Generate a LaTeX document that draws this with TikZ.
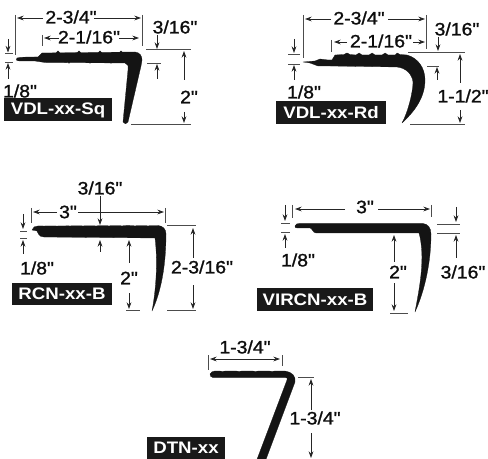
\documentclass[tikz,border=0pt]{standalone}
\usepackage{fontspec}
\usetikzlibrary{arrows.meta}
\newfontfamily\dimfont[FakeStretch=1.08,FakeBold=1.2]{Liberation Sans}
\newfontfamily\boxfont[FakeStretch=1.12]{Liberation Sans Bold}
\tikzset{
  dimtext/.style={font=\dimfont\fontsize{13.5pt}{15pt}\selectfont,inner sep=0pt,text=black!95},
  tagbox/.style={text=white,font=\boxfont\fontsize{12.5pt}{14pt}\selectfont,inner sep=0pt,anchor=center},
  arr/.style={line width=.55pt,-{Stealth[length=5pt,width=3.6pt]},black!85},
  arrb/.style={line width=.55pt,{Stealth[length=5pt,width=3.6pt]}-{Stealth[length=5pt,width=3.6pt]},black!85},
  ext/.style={line width=.55pt,black!70},
  profile/.style={fill=black!92,draw=black!92,line width=.2pt,line join=round},
}
\begin{document}
\begin{tikzpicture}[x=.75pt,y=-.75pt]
\useasboundingbox (0,0) rectangle (488,459);
% ===== VDL-xx-Sq =====
\draw[ext] (15.5,15)--(15.5,55) (142,15)--(142,46) (42.5,35)--(42.5,46);
\node[dimtext] (a1) at (71,17) {2-3/4"};
\draw[arr] (43,18)--(17,18); \draw[arr] (94,18)--(141,18);
\node[dimtext] (a2) at (89,37) {2-1/16"};
\draw[arr] (59,38)--(44,38); \draw[arr] (119,38)--(139,38);
\node[dimtext] (a3) at (175,27) {3/16"};
\draw[arr] (157,35)--(157,49);
\draw[ext] (146,49.5)--(191,49.5) (147,63)--(161,63) (131,124.5)--(191,124.5);
\draw[arr] (157,79)--(157,64);
\node[dimtext] (a4) at (189,97) {2"};
\draw[arr] (184,80)--(184,51); \draw[arr] (184,112)--(184,123);
\draw[arr] (8,39)--(8,52.5); \draw[arr] (8,79)--(8,63);
\draw[ext] (5,53.5)--(13,53.5) (5,62)--(13,62);
\node[dimtext] (a5) at (20,91) {1/8"};
\fill[black!90] (4,98) rectangle (112,121);
\node[tagbox] (a6) at (58,110) {VDL-xx-Sq};
\path[profile,draw] (17,58) .. controls (20,57) and (30,57) .. (38,57) -- (42,53) -- (135,52)
  .. controls (140,52.5) and (142,56) .. (142,60) -- (141,66) -- (128,122)
  .. controls (127,124.5) and (124,124.5) .. (123,122) -- (128,70) -- (128,65.5) -- (125,63) -- (45,62.5) -- (35,61) -- (20,61)
  .. controls (16,61) and (15,59) .. (17,58) -- cycle;
\foreach \x in {58,79,100,121} \fill[black!92] (\x,52.5) circle (1.9);
\foreach \x in {69,90,111} \fill[black!92] (\x,62.8) circle (.9);
% ===== VDL-xx-Rd =====
\draw[ext] (303,15)--(303,58) (426,15)--(426,49) (331.5,40)--(331.5,52);
\node[dimtext] (b1) at (359,18) {2-3/4"};
\draw[arr] (331,19)--(305,19); \draw[arr] (388,19)--(425,19);
\node[dimtext] (b2) at (381,41) {2-1/16"};
\draw[arr] (347,42)--(334,42); \draw[arr] (413,42)--(425,42);
\node[dimtext] (b3) at (457,29) {3/16"};
\draw[arr] (438,37)--(438,51);
\draw[ext] (408,52.5)--(465,52.5) (427,66)--(439,66) (410,124.5)--(465,124.5);
\draw[arr] (437,80)--(437,67);
\node[dimtext] (b4) at (463,96) {1-1/2"};
\draw[arr] (460,83)--(460,54); \draw[arr] (460,110)--(460,123);
\draw[arr] (294,39)--(294,53); \draw[arr] (294,80)--(294,65);
\draw[ext] (288,54.5)--(300,54.5) (288,64)--(300,64);
\node[dimtext] (b5) at (304,92) {1/8"};
\fill[black!90] (276,101) rectangle (386,124.5);
\node[tagbox] (b6) at (331,113) {VDL-xx-Rd};
\path[profile,draw] (303,62) -- (315,61) -- (320,59) -- (328,60) -- (332,60) -- (335,55)
  -- (344,54.5) -- (347,53) -- (350,54.5) -- (356,55) -- (359,53) -- (362,55) -- (369,55) -- (372,53) -- (375,55) -- (382,55) -- (385,53) -- (388,55) -- (395,55) -- (397,53) -- (400,54.5) -- (407,55)
  .. controls (418,58) and (425,68) .. (425,80)
  .. controls (425,98) and (414,112) .. (402,123)
  .. controls (408,112) and (413,92) .. (413,82)
  .. controls (412,74) and (406,68) .. (397,67)
  -- (330,66) -- (318,66) -- (310,63) -- cycle;
% ===== RCN-xx-B =====
\draw[ext] (31,208)--(31,223) (165,208)--(165,223);
\node[dimtext] (c1) at (68,212) {3"};
\draw[arr] (57,212)--(33,212); \draw[arr] (78,212)--(164,212);
\node[dimtext] (c2) at (100,188) {3/16"};
\draw[arr] (100,196)--(100,225);
\draw[arr] (100,252)--(100,240);
\draw[arr] (23,214)--(23,229); \draw[arr] (23,254)--(23,240);
\draw[ext] (20,231)--(27,231) (20,238)--(27,238);
\node[dimtext] (c3) at (37,268) {1/8"};
\fill[black!90] (12,283) rectangle (112,305);
\node[tagbox] (c4) at (62,294) {RCN-xx-B};
\draw[arr] (129,263)--(129,240); \draw[arr] (129,293)--(129,309);
\node[dimtext] (c5) at (129,278) {2"};
\draw[ext] (126,310)--(140,310) (167,225)--(196,225) (167,310)--(196,310);
\draw[arr] (193,258)--(193,228); \draw[arr] (193,285)--(193,309);
\node[dimtext] (c6) at (202,267) {2-3/16"};
\path[profile,draw] (32,230) .. controls (33,227) and (35,226) .. (38,226) -- (158,225.5)
  .. controls (163,226) and (166,229) .. (166,234)
  .. controls (166,262) and (162,290) .. (152,311)
  .. controls (156,290) and (158,262) .. (155,238)
  -- (44,237) .. controls (38,237) and (38,232) .. (37,231) -- cycle;
\foreach \x in {44,57,70,83,96,109,122,135,148} \fill[white] (\x,224.6) circle (1.3);
% ===== VIRCN-xx-B =====
\draw[ext] (292,205)--(292,218) (431,205)--(431,217);
\node[dimtext] (d1) at (365,207) {3"};
\draw[arr] (345,209)--(295,209); \draw[arr] (378,209)--(430,209);
\draw[arr] (285,205)--(285,221); \draw[arr] (285,248)--(285,234);
\draw[ext] (281,223)--(290,223) (281,232.5)--(290,232.5);
\node[dimtext] (d2) at (298,260) {1/8"};
\draw[arr] (394,262)--(394,235); \draw[arr] (394,283)--(394,311);
\node[dimtext] (d3) at (398,272) {2"};
\draw[ext] (390,313)--(408,313) (437,224)--(460,224) (437,233)--(460,233);
\draw[arr] (456,207)--(456,222); \draw[arr] (456,258)--(456,235);
\node[dimtext] (d4) at (463,272) {3/16"};
\fill[black!90] (257,288) rectangle (373,311);
\node[tagbox] (d5) at (315,300) {VIRCN-xx-B};
\path[profile,draw] (295,226) .. controls (296,224) and (297,223.5) .. (299,223.5) -- (423,223.5)
  .. controls (428,224) and (431,228) .. (431,234)
  .. controls (431,262) and (425,290) .. (415,312)
  .. controls (419,290) and (425,262) .. (420,237)
  -- (419,233) -- (316,233) .. controls (313,233) and (312,228) .. (310,228) -- (297,228)
  .. controls (295,228) and (295,227) .. (295,226) -- cycle;
% ===== DTN-xx =====
\draw[ext] (208,355)--(208,370) (282,355)--(282,366);
\draw[arrb] (210,359)--(280,359);
\node[dimtext] (e1) at (245,347) {1-3/4"};
\draw[ext] (298,377)--(314,377);
\draw[arr] (311,410)--(311,379); \draw[arr] (311,433)--(311,458);
\node[dimtext] (e2) at (315,418) {1-3/4"};
\fill[black!90] (147,437) rectangle (225,459);
\node[tagbox] (e3) at (186,448) {DTN-xx};
\begin{scope}
\clip (0,0) rectangle (488,459);
\path[profile,draw] (210,374) .. controls (211,372) and (213,371) .. (215,371) -- (285,371)
  .. controls (292,372) and (296,376) .. (295,382)
  -- (265,462) -- (256,462) -- (287,380) .. controls (288,378) and (287,377.5) .. (285,377.5)
  -- (213,377.5) .. controls (211,377.5) and (210,376) .. (210,374) -- cycle;
\foreach \x in {222.5,239,255.5,272} \fill[white] (\x,370) ellipse (2.6 and 1.3);
\end{scope}
\end{tikzpicture}
\end{document}
